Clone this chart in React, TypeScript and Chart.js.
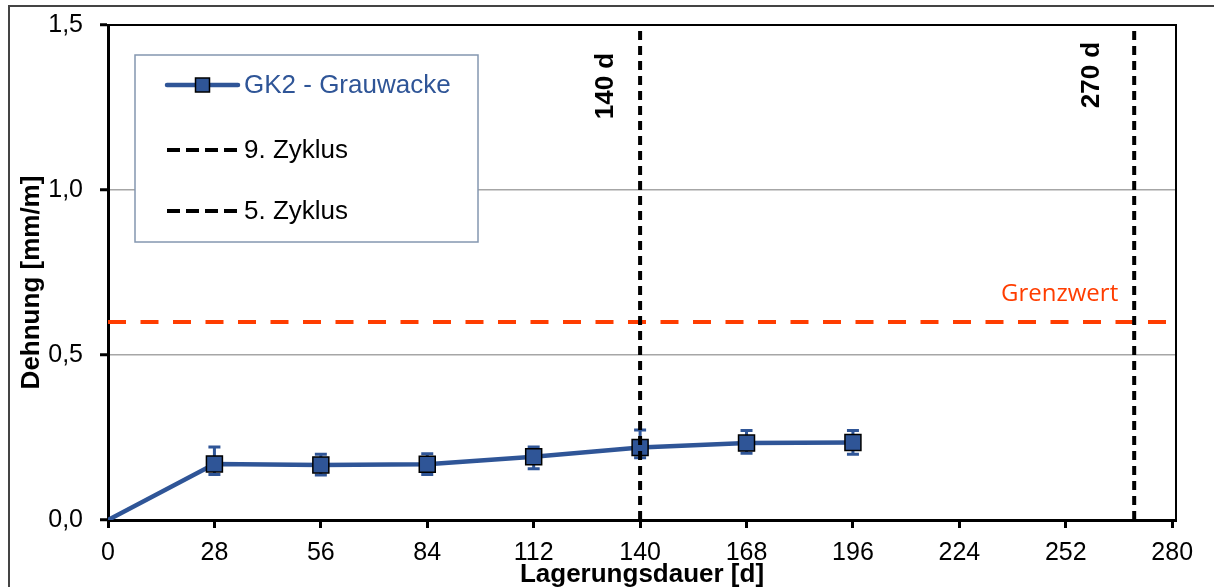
import React, { useEffect, useRef } from "react";
import { Chart, registerables } from "chart.js";

Chart.register(...registerables);

// Storage time [d] and measured strain [mm/m] for GK2 - Grauwacke
const days = [0, 28, 56, 84, 112, 140, 168, 196];
const strain = [0, 0.17, 0.167, 0.169, 0.192, 0.22, 0.233, 0.235];
const strainHigh = [0, 0.221, 0.199, 0.201, 0.221, 0.273, 0.271, 0.271];
const strainLow = [0, 0.138, 0.136, 0.138, 0.155, 0.189, 0.202, 0.199];

const seriesLabel = "GK2 - Grauwacke";

// Cycle end markers
const cycleDays = [140, 270];
const cycleLabels = ["9. Zyklus", "5. Zyklus"];
const cycleMarks = ["140 d", "270 d"];

// Limit value
const limitValue = 0.6;
const limitLabel = "Grenzwert";

// Axes
const xMin = 0;
const xMax = 281;
const xStep = 28;
const yMin = 0;
const yMax = 1.5;
const yStep = 0.5;
const xTitle = "Lagerungsdauer [d]";
const yTitle = "Dehnung [mm/m]";

const BLUE = "#2f5597";
const RED = "#ff3d00";
const FONT = "'Liberation Sans', Arial, sans-serif";

const errorBarPlugin = {
  id: "errorBars",
  beforeDatasetDraw(chart: any, args: any) {
    if (args.index !== 0) return;
    const { ctx, scales } = chart;
    ctx.save();
    ctx.strokeStyle = BLUE;
    ctx.lineWidth = 3;
    for (let i = 0; i < days.length; i++) {
      if (strainHigh[i] === strainLow[i]) continue;
      const x = scales.x.getPixelForValue(days[i]);
      const yh = scales.y.getPixelForValue(strainHigh[i]);
      const yl = scales.y.getPixelForValue(strainLow[i]);
      ctx.beginPath();
      ctx.moveTo(x, yh);
      ctx.lineTo(x, yl);
      ctx.moveTo(x - 6, yh);
      ctx.lineTo(x + 6, yh);
      ctx.moveTo(x - 6, yl);
      ctx.lineTo(x + 6, yl);
      ctx.stroke();
    }
    ctx.restore();
  },
};

const decorPlugin = {
  id: "decor",
  beforeDraw(chart: any) {
    const { ctx } = chart;
    ctx.save();
    ctx.strokeStyle = "#444";
    ctx.lineWidth = 2;
    ctx.beginPath();
    ctx.moveTo(9, chart.height);
    ctx.lineTo(9, 6);
    ctx.lineTo(chart.width, 6);
    ctx.stroke();
    ctx.restore();
  },
  afterDraw(chart: any) {
    const { ctx, chartArea, scales } = chart;
    const { left, top, right, bottom } = chartArea;

    // plot frame (top and right)
    ctx.save();
    ctx.strokeStyle = "#000";
    ctx.lineWidth = 2;
    ctx.beginPath();
    ctx.moveTo(left, top);
    ctx.lineTo(right, top);
    ctx.lineTo(right, bottom);
    ctx.stroke();

    // y axis title
    ctx.fillStyle = "#000";
    ctx.font = `bold 26px ${FONT}`;
    ctx.textAlign = "center";
    ctx.textBaseline = "middle";
    ctx.save();
    ctx.translate(32, (top + bottom) / 2 + 10);
    ctx.rotate(-Math.PI / 2);
    ctx.fillText(yTitle, 0, 0);
    ctx.restore();

    // cycle markers
    const markOffsets = [
      { dx: -34, y: 86 },
      { dx: -42, y: 75 },
    ];
    cycleMarks.forEach((txt, i) => {
      const x = scales.x.getPixelForValue(cycleDays[i]) + markOffsets[i].dx;
      ctx.save();
      ctx.translate(x, markOffsets[i].y);
      ctx.rotate(-Math.PI / 2);
      ctx.fillText(txt, 0, 0);
      ctx.restore();
    });

    // limit label
    ctx.fillStyle = RED;
    ctx.font = `24px 'Open Sans', ${FONT}`;
    ctx.textAlign = "right";
    ctx.textBaseline = "alphabetic";
    ctx.fillText(
      limitLabel,
      scales.x.getPixelForValue(270) - 16,
      scales.y.getPixelForValue(limitValue) - 21
    );

    // legend box
    const bx = left + 27;
    const by = top + 30;
    const bw = 343;
    const bh = 187;
    ctx.fillStyle = "#fff";
    ctx.fillRect(bx, by, bw, bh);
    ctx.strokeStyle = "#8497b0";
    ctx.lineWidth = 1.5;
    ctx.strokeRect(bx, by, bw, bh);

    const rows = [30, 95, 156];
    const sx0 = bx + 32;
    const sx1 = bx + 103;
    const tx = bx + 109;
    ctx.font = `26px ${FONT}`;
    ctx.textAlign = "left";
    ctx.textBaseline = "middle";

    chart.data.datasets.forEach((ds: any, i: number) => {
      if (!ds.label) return;
      const ry = by + rows[i === 0 ? 0 : i === 2 ? 1 : 2];
      ctx.save();
      ctx.strokeStyle = ds.borderColor;
      ctx.lineWidth = ds.borderWidth;
      ctx.lineCap = "round";
      if (ds.borderDash && ds.borderDash.length) {
        ctx.lineCap = "butt";
        ctx.setLineDash([13, 6]);
      }
      ctx.beginPath();
      ctx.moveTo(sx0, ry);
      ctx.lineTo(sx1, ry);
      ctx.stroke();
      ctx.setLineDash([]);
      if (i === 0) {
        const m = 14;
        const mx = (sx0 + sx1) / 2;
        ctx.fillStyle = BLUE;
        ctx.fillRect(mx - m / 2, ry - m / 2, m, m);
        ctx.strokeStyle = "#000";
        ctx.lineWidth = 1.5;
        ctx.strokeRect(mx - m / 2, ry - m / 2, m, m);
      }
      ctx.fillStyle = i === 0 ? BLUE : "#000";
      ctx.fillText(ds.label, tx, ry + 1);
      ctx.restore();
    });
    ctx.restore();
  },
};

export default function App() {
  const canvasRef = useRef<HTMLCanvasElement | null>(null);

  useEffect(() => {
    const canvas = canvasRef.current;
    if (!canvas) return;

    const chart = new Chart(canvas, {
      type: "line",
      data: {
        datasets: [
          {
            label: seriesLabel,
            data: days.map((d, i) => ({ x: d, y: strain[i] })),
            borderColor: BLUE,
            backgroundColor: BLUE,
            borderWidth: 4.5,
            pointStyle: "rect",
            pointRadius: (c: any) => (c.dataIndex === 0 ? 0 : 11.3),
            pointBorderColor: "#000",
            pointBackgroundColor: BLUE,
            pointBorderWidth: 1.5,
            tension: 0,
            order: 2,
          } as any,
          {
            data: [
              { x: xMin, y: limitValue },
              { x: xMax, y: limitValue },
            ],
            borderColor: RED,
            borderWidth: 4,
            borderDash: [18, 14.5],
            pointRadius: 0,
            order: 3,
          },
          {
            label: cycleLabels[0],
            data: [
              { x: cycleDays[0], y: yMin },
              { x: cycleDays[0], y: yMax },
            ],
            borderColor: "#000",
            borderWidth: 4,
            borderDash: [9, 6],
            pointRadius: 0,
            order: 1,
          },
          {
            label: cycleLabels[1],
            data: [
              { x: cycleDays[1], y: yMin },
              { x: cycleDays[1], y: yMax },
            ],
            borderColor: "#000",
            borderWidth: 4,
            borderDash: [9, 6],
            pointRadius: 0,
            order: 0,
          },
        ],
      },
      options: {
        animation: false,
        responsive: true,
        maintainAspectRatio: false,
        layout: { padding: { top: 25, right: 38, left: 0, bottom: 0 } },
        plugins: {
          legend: { display: false },
          tooltip: { enabled: false },
        },
        scales: {
          x: {
            type: "linear",
            min: xMin,
            max: xMax,
            ticks: {
              stepSize: xStep,
              includeBounds: false,
              color: "#000",
              font: { family: FONT, size: 25 },
              padding: 10,
              maxRotation: 0,
              callback: (v: any) => String(v),
            },
            grid: {
              drawOnChartArea: false,
              drawTicks: true,
              tickLength: 8,
              tickWidth: 3,
              tickColor: "#000",
            },
            border: { color: "#000", width: 3 },
            title: {
              display: true,
              text: xTitle,
              color: "#000",
              font: { family: FONT, size: 26, weight: "bold", lineHeight: 0.9 },
              padding: { top: 0, bottom: 0 },
            },
            afterFit: (s: any) => {
              s.height = 67;
              s.paddingLeft = 0;
              s.paddingRight = 0;
            },
          },
          y: {
            min: yMin,
            max: yMax,
            ticks: {
              stepSize: yStep,
              color: "#000",
              font: { family: FONT, size: 25 },
              padding: 17,
              callback: (v: any) => Number(v).toFixed(1).replace(".", ","),
            },
            grid: {
              color: (c: any) =>
                c.tick && c.tick.value > yMin && c.tick.value < yMax
                  ? "#a6a6a6"
                  : "rgba(0,0,0,0)",
              lineWidth: 1.5,
              drawTicks: true,
              tickLength: 8,
              tickWidth: 3,
              tickColor: "#000",
            },
            border: { color: "#000", width: 3 },
            afterFit: (s: any) => {
              s.width = 108;
              s.paddingTop = 0;
              s.paddingBottom = 0;
            },
          },
        },
      } as any,
      plugins: [errorBarPlugin, decorPlugin],
    });

    return () => chart.destroy();
  }, []);

  return (
    <div
      style={{
        position: "absolute",
        left: 0,
        top: 0,
        width: 1214,
        height: 587,
        background: "#fff",
      }}
    >
      <canvas ref={canvasRef} />
    </div>
  );
}
